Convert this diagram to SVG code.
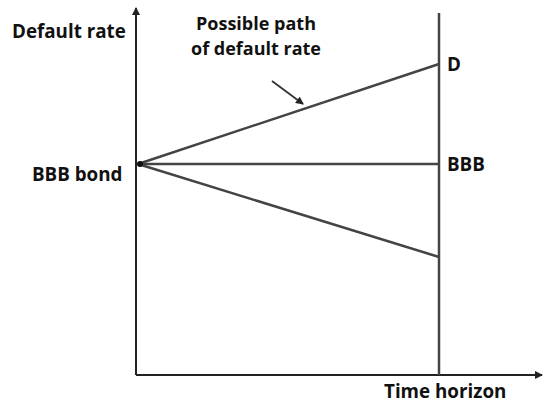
<svg xmlns="http://www.w3.org/2000/svg" width="543" height="405" viewBox="0 0 543 405">
<style>
text{font-family:"Open Sans","Liberation Sans",sans-serif;font-weight:bold;font-size:18.8px;fill:#111}
.an{font-size:18px}
.ax{stroke:#222;stroke-width:2;fill:none}
.ln{stroke:#444;stroke-width:2.5;fill:none}
</style>
<defs>
<marker id="ah" markerWidth="8" markerHeight="8" refX="7" refY="4" orient="auto" markerUnits="userSpaceOnUse">
<path d="M0,0 L8,4 L0,8 z" fill="#222"/>
</marker>
</defs>
<rect width="543" height="405" fill="#fff"/>
<g id="connectors">
<line class="ax" x1="136" y1="375" x2="136" y2="8" marker-end="url(#ah)"/>
<line class="ax" x1="136" y1="375" x2="542" y2="375" marker-end="url(#ah)"/>
<line class="ln" x1="439" y1="13" x2="439" y2="375"/>
<line class="ln" x1="138" y1="164" x2="439" y2="64"/>
<line class="ln" x1="138" y1="164" x2="439" y2="164"/>
<line class="ln" x1="138" y1="164" x2="439" y2="257"/>
<line x1="272" y1="81" x2="303" y2="104" stroke="#333" stroke-width="1.8" marker-end="url(#ah)"/>
</g>
<g id="origin"><circle cx="140" cy="164" r="3" fill="#111"/></g>
<g id="ylabel"><text x="12" y="38">Default rate</text></g>
<g id="annotation"><text class="an" x="256" y="30" text-anchor="middle">Possible path</text><text class="an" x="256" y="55" text-anchor="middle">of default rate</text></g>
<g id="d"><text x="447" y="71">D</text></g>
<g id="bbbbond"><text x="32" y="181">BBB bond</text></g>
<g id="bbb"><text x="447" y="171">BBB</text></g>
<g id="xlabel"><text x="384" y="398">Time horizon</text></g>
</svg>
